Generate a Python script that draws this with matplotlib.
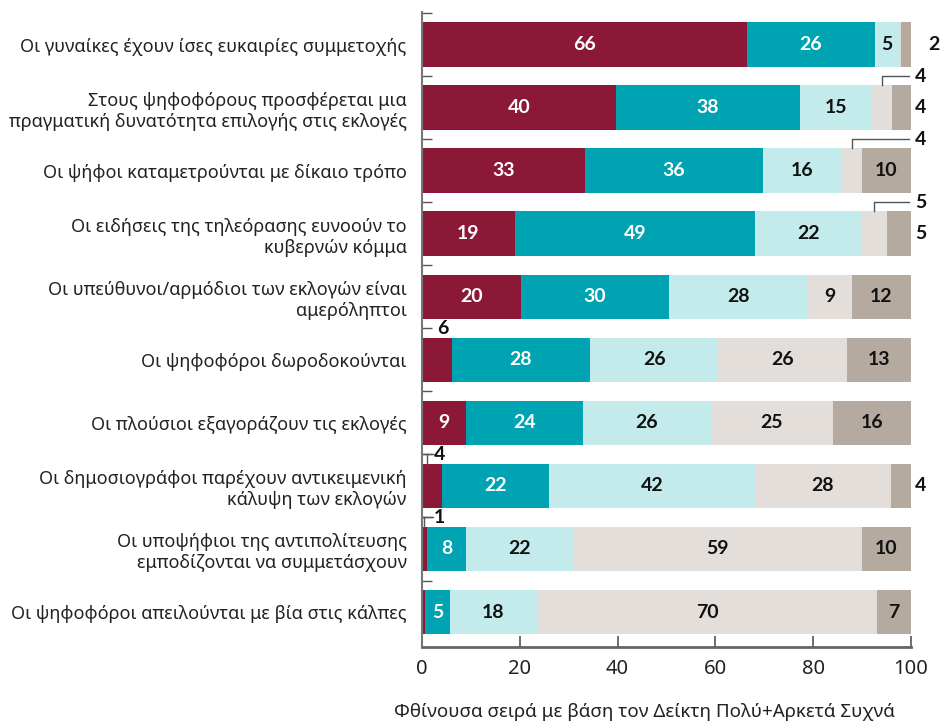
import matplotlib
matplotlib.use("Agg")
import matplotlib.pyplot as plt
import numpy as np

plt.rcParams['font.family'] = ['Noto Sans', 'DejaVu Sans']

categories = [
    "Οι γυναίκες έχουν ίσες ευκαιρίες συμμετοχής",
    "Στους ψηφοφόρους προσφέρεται μια\nπραγματική δυνατότητα επιλογής στις εκλογές",
    "Οι ψήφοι καταμετρούνται με δίκαιο τρόπο",
    "Οι ειδήσεις της τηλεόρασης ευνοούν το\nκυβερνών κόμμα",
    "Οι υπεύθυνοι/αρμόδιοι των εκλογών είναι\nαμερόληπτοι",
    "Οι ψηφοφόροι δωροδοκούνται",
    "Οι πλούσιοι εξαγοράζουν τις εκλογές",
    "Οι δημοσιογράφοι παρέχουν αντικειμενική\nκάλυψη των εκλογών",
    "Οι υποψήφιοι της αντιπολίτευσης\nεμποδίζονται να συμμετάσχουν",
    "Οι ψηφοφόροι απειλούνται με βία στις κάλπες",
]
s1 = [66, 40, 33, 19, 20, 6, 9, 4, 1, 0.7]
s2 = [26, 38, 36, 49, 30, 28, 24, 22, 8, 5]
s3 = [5, 15, 16, 22, 28, 26, 26, 42, 22, 18]
s4 = [0.4, 4, 4, 5, 9, 26, 25, 28, 59, 70]
s5 = [2, 4, 10, 5, 12, 13, 16, 4, 10, 7]
caption = "Φθίνουσα σειρά με βάση τον Δείκτη Πολύ+Αρκετά Συχνά"
xticks = [0, 20, 40, 60, 80, 100]

colors = ["#8C1838", "#00A3B1", "#C4EBEC", "#E3DEDA", "#B5AA9F"]
text_colors = ["white", "white", "#111111", "#111111", "#111111"]
num_font = ['Lato', 'Open Sans', 'DejaVu Sans']

data = np.array([s1, s2, s3, s4, s5], dtype=float)
totals = data.sum(axis=0)
norm = data / totals * 100

fig = plt.figure(figsize=(9.46, 7.26), dpi=100)
ax = fig.add_axes([422/946, 1-647/726, (911-422)/946, (647-12)/726])

y = np.arange(len(categories))
bar_h = 0.71
left = np.zeros(len(categories))
for j in range(5):
    ax.barh(y, norm[j], left=left, height=bar_h, color=colors[j], linewidth=0)
    for i in range(len(categories)):
        v = data[j, i]
        w = norm[j, i]
        s = left[i]
        if v < 1:
            continue
        lab = f"{int(round(v))}"
        kw = dict(fontsize=14, fontweight='bold', va='center', family=num_font)
        if j == 0 and v < 7:
            xl = 4.3 if v >= 5 else 3.6
            ax.text(xl, i - 0.5, lab, ha='center', color='#111111', **kw)
            if v < 5:
                xc = min(s + w / 2, 1.0)
                ax.plot([xc, xc], [i - bar_h / 2, i - 0.5], color='#555555', lw=1.0)
                ax.plot([0, 2.2], [i - 0.5, i - 0.5], color='#555555', lw=1.0)
        elif j == 3 and v < 6:
            xc = s + w / 2
            ax.plot([xc, xc, 99.5], [i - bar_h / 2, i - 0.5, i - 0.5], color='#555555', lw=1.0,
                    clip_on=False)
            ax.text(102, i - 0.5, lab, ha='center', color='#111111', clip_on=False, **kw)
        elif j == 4 and v < 6:
            xl = 104.6 if v < 3 else 102
            ax.text(xl, i, lab, ha='center', color='#111111', clip_on=False, **kw)
        else:
            ax.text(s + w / 2, i, lab, ha='center', color=text_colors[j], **kw)
    left = left + norm[j]

ax.set_xlim(0, 100)
ax.set_ylim(len(categories) - 1 + 0.555, -0.52)

for sp in ['top', 'right']:
    ax.spines[sp].set_visible(False)
ax.spines['left'].set_color('#777777')
ax.spines['left'].set_linewidth(1.5)
ax.spines['bottom'].set_color('#666666')
ax.spines['bottom'].set_linewidth(2)

ax.set_xticks(xticks)
ax.set_xticklabels([str(t) for t in xticks])
ax.tick_params(axis='x', direction='in', length=8, width=1.2, color='#555555',
               labelsize=14.5, labelcolor='#222222', pad=9)
ax.set_yticks(y)
ax.set_yticklabels(categories, fontsize=13, color='#222222')
ax.tick_params(axis='y', length=0, pad=11)
ax.set_yticks(np.arange(len(categories)) - 0.5, minor=True)
ax.tick_params(axis='y', which='minor', direction='in', length=7, width=1.0, color='#555555')

fig.text(895/946, 1 - 712/726, caption, ha='right', va='center', fontsize=13.5, color='#222222')

fig.savefig("out.png", dpi=100)
